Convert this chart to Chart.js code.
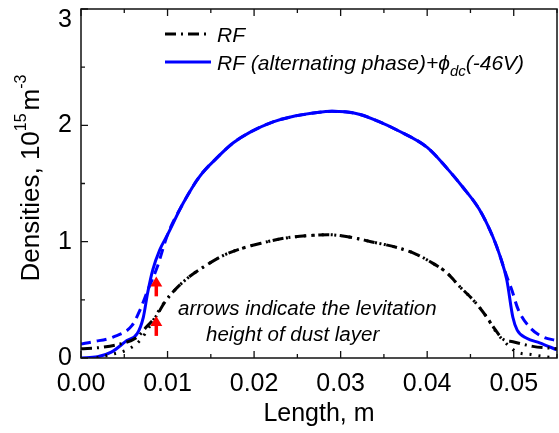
<!DOCTYPE html>
<html>
<head>
<meta charset="utf-8">
<script src="https://cdn.jsdelivr.net/npm/chart.js@4.4.1/dist/chart.umd.min.js"></script>
<style>
  html, body { margin: 0; padding: 0; background: #fff; }
  canvas { display: block; }
</style>
</head>
<body>
<canvas id="chart" width="559" height="433"></canvas>
<script>
const xTicks = [0, 0.01, 0.02, 0.03, 0.04, 0.05];
const yTicks = [0, 1, 2, 3];

// RF, dash-dot
const rfX = [0, 0.0022, 0.0045, 0.0065, 0.0076, 0.0088, 0.0095, 0.0103, 0.0122, 0.0141, 0.0164, 0.0185, 0.0210, 0.0235, 0.0260, 0.0285, 0.0310, 0.0335, 0.0365, 0.0385, 0.0403, 0.0423, 0.0438, 0.0453, 0.0469, 0.0478, 0.0488, 0.0499, 0.0522, 0.055];
const rfY = [0.08, 0.09, 0.12, 0.18, 0.27, 0.37, 0.46, 0.54, 0.68, 0.78, 0.88, 0.94, 0.99, 1.03, 1.05, 1.06, 1.04, 1.00, 0.95, 0.90, 0.83, 0.73, 0.61, 0.50, 0.35, 0.25, 0.16, 0.14, 0.10, 0.08];

// RF, second trace (dotted, only separates near the walls)
const rf2X = [0.0018, 0.0035, 0.0053, 0.0068, 0.0080, 0.0091, 0.0103, 0.0122, 0.0141, 0.0164, 0.0185, 0.0210, 0.0235, 0.0260, 0.0285, 0.0310, 0.0335, 0.0365, 0.0385, 0.0403, 0.0423, 0.0438, 0.0453, 0.0469, 0.0480, 0.0495, 0.0504, 0.0520, 0.0538, 0.055];
const rf2Y = [0.0, 0.03, 0.07, 0.15, 0.28, 0.42, 0.54, 0.68, 0.78, 0.88, 0.94, 0.99, 1.03, 1.05, 1.06, 1.04, 1.00, 0.95, 0.90, 0.83, 0.73, 0.61, 0.50, 0.35, 0.22, 0.10, 0.05, 0.03, 0.01, 0.0];

// RF (alternating phase) + phi_dc, solid
const altX = [0, 0.0019, 0.0035, 0.0053, 0.0065, 0.0072, 0.0077, 0.0083, 0.0091, 0.0100, 0.0118, 0.0137, 0.0157, 0.0176, 0.0195, 0.0222, 0.0241, 0.0273, 0.0290, 0.0319, 0.0345, 0.0365, 0.0400, 0.0423, 0.0441, 0.0460, 0.0476, 0.0484, 0.0492, 0.0499, 0.0504, 0.0515, 0.0530, 0.055];
const altY = [0.0, 0.01, 0.05, 0.15, 0.21, 0.35, 0.56, 0.76, 0.93, 1.06, 1.33, 1.56, 1.72, 1.85, 1.94, 2.03, 2.07, 2.11, 2.12, 2.10, 2.03, 1.96, 1.81, 1.63, 1.47, 1.28, 1.04, 0.88, 0.67, 0.35, 0.24, 0.17, 0.13, 0.07];

// same case, dashed trace
const alt2X = [0, 0.0014, 0.0037, 0.0059, 0.0068, 0.0077, 0.0088, 0.0100, 0.0118, 0.0137, 0.0157, 0.0176, 0.0195, 0.0222, 0.0241, 0.0273, 0.0290, 0.0319, 0.0345, 0.0365, 0.0400, 0.0423, 0.0441, 0.0460, 0.0476, 0.0484, 0.0492, 0.0498, 0.0505, 0.0519, 0.0534, 0.055];
const alt2Y = [0.12, 0.14, 0.18, 0.28, 0.41, 0.58, 0.78, 1.06, 1.33, 1.56, 1.72, 1.85, 1.94, 2.03, 2.07, 2.11, 2.12, 2.10, 2.03, 1.96, 1.81, 1.63, 1.47, 1.28, 1.04, 0.88, 0.70, 0.58, 0.42, 0.26, 0.18, 0.15];

// levitation height arrows (tail -> head)
const arrowX = [0.0087, 0.0087];
const arrowFrom = [0.53, 0.19];
const arrowTo = [0.70, 0.36];

const noteLines = ['arrows indicate the levitation', 'height of dust layer'];

const FONT = 'Liberation Sans, Arial, sans-serif';

const toPoints = (xs, ys) => xs.map((x, i) => ({ x, y: ys[i] }));

function lineStyle(color, dash) {
  return {
    borderColor: color,
    borderWidth: 3,
    borderDash: dash,
    pointRadius: 0,
    fill: false,
    cubicInterpolationMode: 'monotone'
  };
}

function drawArrow(ctx, x, yTail, yHead) {
  ctx.save();
  ctx.fillStyle = '#ff0000';
  ctx.strokeStyle = '#ff0000';
  ctx.lineWidth = 3.5;
  ctx.beginPath();
  ctx.moveTo(x, yTail);
  ctx.lineTo(x, yHead + 8);
  ctx.stroke();
  ctx.beginPath();
  ctx.moveTo(x, yHead);
  ctx.lineTo(x - 6, yHead + 10);
  ctx.lineTo(x + 6, yHead + 10);
  ctx.closePath();
  ctx.fill();
  ctx.restore();
}

const framePlugin = {
  id: 'frame',
  afterDraw(chart) {
    const { ctx, chartArea: a, scales: { x, y } } = chart;
    ctx.save();

    // frame
    ctx.strokeStyle = '#111';
    ctx.lineWidth = 1.5;
    ctx.strokeRect(a.left, a.top, a.right - a.left, a.bottom - a.top);

    // inward ticks, minor ones halfway
    ctx.lineWidth = 1.3;
    ctx.beginPath();
    for (let i = 0; i < xTicks.length; i++) {
      const major = x.getPixelForValue(xTicks[i]);
      const minor = x.getPixelForValue(xTicks[i] + 0.005);
      [[major, 7], [minor, 4]].forEach(([px, len]) => {
        if (px > a.right) return;
        ctx.moveTo(px, a.bottom); ctx.lineTo(px, a.bottom - len);
        ctx.moveTo(px, a.top); ctx.lineTo(px, a.top + len);
      });
    }
    for (let i = 0; i < yTicks.length; i++) {
      const major = y.getPixelForValue(yTicks[i]);
      ctx.moveTo(a.left, major); ctx.lineTo(a.left + 7, major);
      if (i < yTicks.length - 1) {
        const minor = y.getPixelForValue(yTicks[i] + 0.5);
        ctx.moveTo(a.left, minor); ctx.lineTo(a.left + 4, minor);
      }
    }
    ctx.stroke();

    // y tick labels (top one kept inside the canvas)
    ctx.fillStyle = '#000';
    ctx.font = '25px ' + FONT;
    ctx.textAlign = 'right';
    ctx.textBaseline = 'middle';
    yTicks.forEach(v => {
      const py = Math.max(y.getPixelForValue(v), a.top + 11);
      ctx.fillText(String(v), a.left - 9, py);
    });

    // y title with superscripts
    const parts = [
      ['Densities, 10', 26, 0, 0],
      ['15', 16, -10, 3],
      ['m', 26, 0, 0],
      ['-3', 16, -10, 0]
    ];
    let total = 0;
    parts.forEach(p => { ctx.font = p[1] + 'px ' + FONT; total += ctx.measureText(p[0]).width + p[3]; });
    ctx.translate(32, 178);
    ctx.rotate(-Math.PI / 2);
    ctx.textAlign = 'left';
    ctx.textBaseline = 'middle';
    let cx = -total / 2;
    parts.forEach(p => {
      ctx.font = p[1] + 'px ' + FONT;
      ctx.fillText(p[0], cx, p[2]);
      cx += ctx.measureText(p[0]).width + p[3];
    });
    ctx.setTransform(1, 0, 0, 1, 0, 0);

    // legend
    const ds = chart.data.datasets;
    [[ds[0], 34], [ds[2], 62]].forEach(([d, ly]) => {
      ctx.strokeStyle = d.borderColor;
      ctx.lineWidth = 3;
      ctx.setLineDash(d.borderDash || []);
      ctx.beginPath();
      ctx.moveTo(165, ly); ctx.lineTo(211, ly);
      ctx.stroke();
    });
    ctx.setLineDash([]);
    ctx.fillStyle = '#000';
    ctx.textAlign = 'left';
    ctx.textBaseline = 'alphabetic';
    ctx.font = 'italic 21px ' + FONT;
    ctx.fillText('RF', 217, 42);
    let lx = 217;
    const legParts = [
      ['RF (alternating phase)+', 21, 0],
      ['\u03d5', 21, 0],
      ['dc', 15, 6],
      ['(-46V)', 21, 0]
    ];
    legParts.forEach(p => {
      ctx.font = 'italic ' + p[1] + 'px ' + FONT;
      ctx.fillText(p[0], lx, 70 + p[2]);
      lx += ctx.measureText(p[0]).width;
    });

    // note
    ctx.font = 'italic 20.5px ' + FONT;
    ctx.fillText(noteLines[0], 178, 315);
    ctx.fillText(noteLines[1], 206, 341);

    // arrows
    arrowX.forEach((v, i) => {
      drawArrow(ctx, x.getPixelForValue(v), y.getPixelForValue(arrowFrom[i]), y.getPixelForValue(arrowTo[i]));
    });

    ctx.restore();
  }
};

const ctx = document.getElementById('chart').getContext('2d');
new Chart(ctx, {
  type: 'line',
  data: {
    datasets: [
      Object.assign({ label: 'RF', data: toPoints(rfX, rfY) }, lineStyle('#000000', [11, 5, 2, 5])),
      Object.assign({ label: 'RF (2)', data: toPoints(rf2X, rf2Y) }, lineStyle('#000000', [2, 7])),
      Object.assign({ label: 'RF (alternating phase)', data: toPoints(altX, altY) }, lineStyle('#0000ff', [])),
      Object.assign({ label: 'RF (alternating phase) (2)', data: toPoints(alt2X, alt2Y) }, lineStyle('#0000ff', [10, 6]))
    ]
  },
  options: {
    responsive: false,
    animation: false,
    devicePixelRatio: 1,
    layout: { padding: { top: 9, right: 2, left: 0, bottom: 0 } },
    plugins: { legend: { display: false }, tooltip: { enabled: false } },
    scales: {
      x: {
        type: 'linear',
        min: 0,
        max: 0.055,
        afterBuildTicks: s => { s.ticks = xTicks.map(v => ({ value: v })); },
        afterFit: s => { s.height = 75; },
        grid: { display: false },
        border: { display: false },
        title: { display: true, text: 'Length, m', color: '#000', font: { family: FONT, size: 25 }, padding: { top: 2 } },
        ticks: {
          color: '#000',
          font: { family: FONT, size: 25 },
          padding: 3,
          maxRotation: 0,
          autoSkip: false,
          callback: v => v.toFixed(2)
        }
      },
      y: {
        min: 0,
        max: 3,
        afterFit: s => { s.width = 81; },
        grid: { display: false },
        border: { display: false },
        ticks: { display: false }
      }
    }
  },
  plugins: [framePlugin]
});
</script>
</body>
</html>
